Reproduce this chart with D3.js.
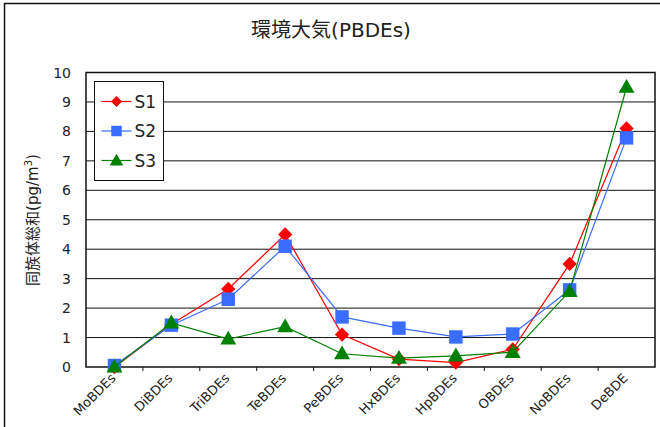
<!DOCTYPE html>
<html>
  <head>
    <meta charset="UTF-8">
    <style>
      body { margin: 0; background: #fff; }
      svg text { fill: #222; }
    </style>
  </head>
  <body>
    <svg id="chart" width="660" height="427"></svg>

    <script src="https://d3js.org/d3.v7.min.js"></script>
    <script>
      var categories = ["MoBDEs", "DiBDEs", "TriBDEs", "TeBDEs", "PeBDEs", "HxBDEs", "HpBDEs", "OBDEs", "NoBDEs", "DeBDE"];
      var s1 = [0, 1.45, 2.65, 4.5, 1.1, 0.27, 0.15, 0.6, 3.5, 8.1];
      var s2 = [0.05, 1.42, 2.3, 4.1, 1.7, 1.32, 1.02, 1.12, 2.62, 7.78];
      var s3 = [0, 1.5, 0.95, 1.37, 0.45, 0.3, 0.38, 0.5, 2.57, 9.5];
      var yTicks = [0, 1, 2, 3, 4, 5, 6, 7, 8, 9, 10];

      var series = [
        {name: "S1", values: s1, color: "#ff0000", symbol: "diamond"},
        {name: "S2", values: s2, color: "#3a6cff", symbol: "square"},
        {name: "S3", values: s3, color: "#008000", symbol: "triangle"}
      ];

      var font = "'DejaVu Sans', 'Noto Sans CJK JP', sans-serif";
      var svg = d3.select("#chart");

      // outer frame (cut off on the right and bottom like the original)
      svg.append("rect")
          .attr("x", 4.5).attr("y", 3.5)
          .attr("width", 700).attr("height", 500)
          .attr("fill", "none").attr("stroke", "#111").attr("stroke-width", 1.5);

      svg.append("text")
          .attr("x", 331).attr("y", 37)
          .attr("text-anchor", "middle")
          .attr("font-family", font).attr("font-size", 20)
          .text("環境大気(PBDEs)");

      var pLeft = 86, pRight = 655, pTop = 72.5, pBottom = 367;

      var x = d3.scaleBand().domain(categories).range([pLeft, pRight]).padding(0);
      var y = d3.scaleLinear().domain([0, 10]).range([pBottom, pTop]);

      // grid lines
      svg.append("g").selectAll("line")
        .data(yTicks.slice(1, -1))
        .enter().append("line")
          .attr("x1", pLeft).attr("x2", pRight)
          .attr("y1", function(d) { return y(d); })
          .attr("y2", function(d) { return y(d); })
          .attr("stroke", "#111").attr("stroke-width", 1);

      // y axis labels
      svg.append("g").selectAll("text")
        .data(yTicks)
        .enter().append("text")
          .attr("x", 71)
          .attr("y", function(d) { return y(d) + 5; })
          .attr("text-anchor", "end")
          .attr("font-family", font).attr("font-size", 14)
          .text(function(d) { return d; });

      // ticks at the band edges, below the axis
      svg.append("g").selectAll("line")
        .data(categories.slice(1))
        .enter().append("line")
          .attr("x1", function(d) { return x(d); })
          .attr("x2", function(d) { return x(d); })
          .attr("y1", pBottom).attr("y2", pBottom + 4)
          .attr("stroke", "#111").attr("stroke-width", 1);

      svg.append("g").selectAll("text")
        .data(categories)
        .enter().append("text")
          .attr("transform", function(d) {
            return "translate(" + (x(d) + x.bandwidth() / 2 + 2) + "," + (pBottom + 12) + ") rotate(-45)";
          })
          .attr("text-anchor", "end")
          .attr("font-family", font).attr("font-size", 13)
          .text(function(d) { return d; });

      // plot frame
      svg.append("rect")
          .attr("x", pLeft).attr("y", pTop)
          .attr("width", pRight - pLeft).attr("height", pBottom - pTop)
          .attr("fill", "none").attr("stroke", "#111").attr("stroke-width", 1.5);

      // y axis title
      var yt = svg.append("text")
          .attr("transform", "translate(38,220) rotate(-90)")
          .attr("text-anchor", "middle")
          .attr("font-family", font).attr("font-size", 15);
      yt.append("tspan").text("同族体総和(pg/m");
      yt.append("tspan").attr("dy", -6).attr("font-size", 10).text("3");
      yt.append("tspan").attr("dy", 6).text(")");

      function filledSymbol(name, size) {
        var t = name == "diamond" ? d3.symbolDiamond2 : name == "square" ? d3.symbolSquare : d3.symbolTriangle;
        return d3.symbol().type(t).size(size)();
      }

      var line = d3.line()
          .x(function(d, i) { return x(categories[i]) + x.bandwidth() / 2; })
          .y(function(d) { return y(d); });

      series.forEach(function(s) {
        var g = svg.append("g");
        g.append("path")
            .attr("d", line(s.values))
            .attr("fill", "none")
            .attr("stroke", s.color).attr("stroke-width", 1.2);
        var sz = s.symbol == "diamond" ? 130 : s.symbol == "square" ? 180 : 110;
        g.selectAll("path.m")
          .data(s.values)
          .enter().append("path")
            .attr("class", "m")
            .attr("d", filledSymbol(s.symbol, sz))
            .attr("transform", function(d, i) {
              var dy = s.symbol == "triangle" ? 1 : 0;
              return "translate(" + (x(categories[i]) + x.bandwidth() / 2) + "," + (y(d) + dy) + ")";
            })
            .attr("fill", s.color);
      });

      // legend
      var legend = svg.append("g").attr("transform", "translate(94.5,81.5)");
      legend.append("rect")
          .attr("width", 69).attr("height", 99)
          .attr("fill", "#fff").attr("stroke", "#111").attr("stroke-width", 1);
      series.forEach(function(s, i) {
        var ly = 20 + i * 29.5;
        legend.append("line")
            .attr("x1", 7).attr("x2", 37)
            .attr("y1", ly).attr("y2", ly)
            .attr("stroke", s.color).attr("stroke-width", 1.2);
        var sz = s.symbol == "diamond" ? 80 : s.symbol == "square" ? 110 : 80;
        legend.append("path")
            .attr("d", filledSymbol(s.symbol, sz))
            .attr("transform", "translate(22," + (ly + (s.symbol == "triangle" ? 1 : 0)) + ")")
            .attr("fill", s.color);
        legend.append("text")
            .attr("x", 40).attr("y", ly + 6)
            .attr("font-family", font).attr("font-size", 17)
            .text(s.name);
      });
    </script>
  </body>
</html>
